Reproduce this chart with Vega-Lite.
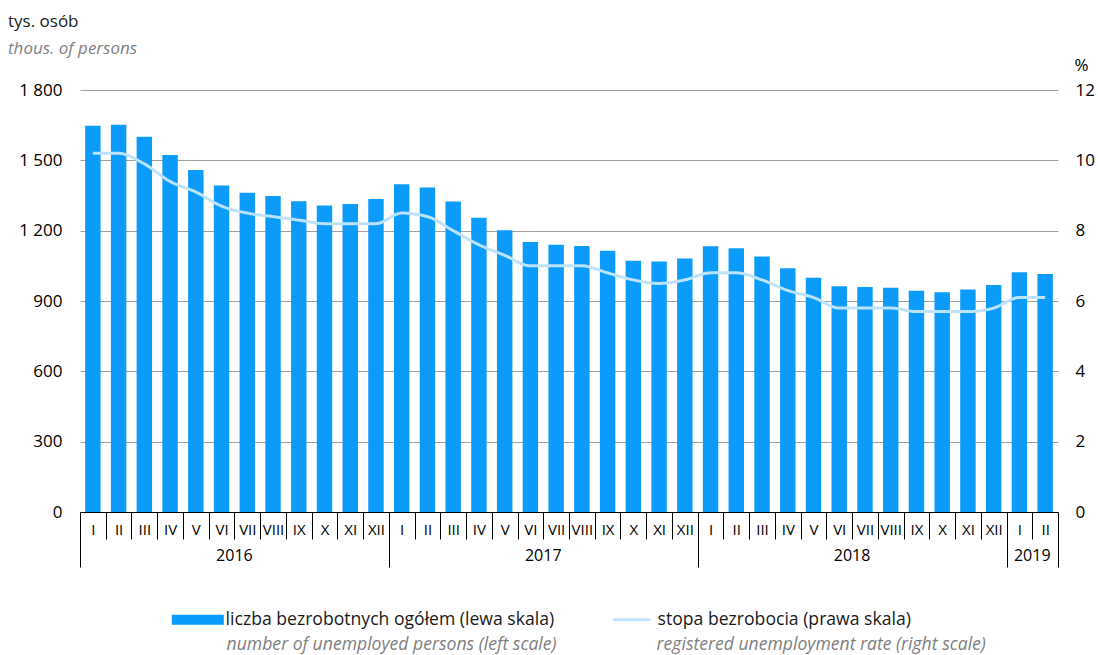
{
  "$schema": "https://vega.github.io/schema/vega-lite/v6.json",
  "width": 978,
  "height": 422,
  "autosize": {"type": "none"},
  "padding": {"left": 80, "top": 90, "right": 40, "bottom": 143},
  "background": "white",
  "config": {
    "font": "Open Sans",
    "view": {"stroke": null},
    "axis": {"labelFont": "Open Sans", "titleFont": "Open Sans"},
    "legend": {"labelFont": "Open Sans", "labelLimit": 0, "padding": 0}
  },
  "title": {
    "text": "tys. osób",
    "subtitle": "thous. of persons",
    "anchor": "start",
    "frame": "group",
    "dx": -72,
    "offset": -2,
    "font": "Open Sans",
    "fontSize": 17,
    "fontWeight": "normal",
    "color": "#1a1a1a",
    "subtitleFont": "Open Sans",
    "subtitleFontSize": 17,
    "subtitleFontStyle": "italic",
    "subtitleColor": "#7f7f7f",
    "subtitlePadding": 10
  },
  "data": {
    "values": [
      {"key": "2016|01|I", "value": 1648.0, "rate": 10.2},
      {"key": "2016|02|II", "value": 1651.8, "rate": 10.2},
      {"key": "2016|03|III", "value": 1600.2, "rate": 9.9},
      {"key": "2016|04|IV", "value": 1522.5, "rate": 9.4},
      {"key": "2016|05|V", "value": 1459.0, "rate": 9.1},
      {"key": "2016|06|VI", "value": 1393.0, "rate": 8.7},
      {"key": "2016|07|VII", "value": 1361.6, "rate": 8.5},
      {"key": "2016|08|VIII", "value": 1347.7, "rate": 8.4},
      {"key": "2016|09|IX", "value": 1325.0, "rate": 8.3},
      {"key": "2016|10|X", "value": 1307.5, "rate": 8.2},
      {"key": "2016|11|XI", "value": 1313.3, "rate": 8.2},
      {"key": "2016|12|XII", "value": 1335.2, "rate": 8.2},
      {"key": "2017|01|I", "value": 1398.1, "rate": 8.5},
      {"key": "2017|02|II", "value": 1383.6, "rate": 8.4},
      {"key": "2017|03|III", "value": 1324.0, "rate": 8.0},
      {"key": "2017|04|IV", "value": 1255.1, "rate": 7.6},
      {"key": "2017|05|V", "value": 1201.5, "rate": 7.3},
      {"key": "2017|06|VI", "value": 1151.6, "rate": 7.0},
      {"key": "2017|07|VII", "value": 1139.4, "rate": 7.0},
      {"key": "2017|08|VIII", "value": 1135.0, "rate": 7.0},
      {"key": "2017|09|IX", "value": 1114.6, "rate": 6.8},
      {"key": "2017|10|X", "value": 1071.8, "rate": 6.6},
      {"key": "2017|11|XI", "value": 1068.7, "rate": 6.5},
      {"key": "2017|12|XII", "value": 1081.7, "rate": 6.6},
      {"key": "2018|01|I", "value": 1134.0, "rate": 6.8},
      {"key": "2018|02|II", "value": 1125.2, "rate": 6.8},
      {"key": "2018|03|III", "value": 1089.6, "rate": 6.6},
      {"key": "2018|04|IV", "value": 1040.0, "rate": 6.3},
      {"key": "2018|05|V", "value": 999.0, "rate": 6.1},
      {"key": "2018|06|VI", "value": 963.0, "rate": 5.8},
      {"key": "2018|07|VII", "value": 960.0, "rate": 5.8},
      {"key": "2018|08|VIII", "value": 956.0, "rate": 5.8},
      {"key": "2018|09|IX", "value": 944.0, "rate": 5.7},
      {"key": "2018|10|X", "value": 937.0, "rate": 5.7},
      {"key": "2018|11|XI", "value": 949.0, "rate": 5.7},
      {"key": "2018|12|XII", "value": 968.0, "rate": 5.8},
      {"key": "2019|01|I", "value": 1023.0, "rate": 6.1},
      {"key": "2019|02|II", "value": 1015.0, "rate": 6.1}
    ]
  },
  "layer": [
    {
      "mark": {"type": "bar", "width": {"band": 0.6}},
      "encoding": {
        "x": {
          "field": "key",
          "type": "ordinal",
          "sort": null,
          "scale": {"paddingInner": 0, "paddingOuter": 0},
          "axis": {
            "orient": "bottom",
            "title": null,
            "grid": false,
            "domainColor": "#000000",
            "domainWidth": 1,
            "tickBand": "extent",
            "tickColor": "#000000",
            "tickWidth": 1,
            "tickSize": {
              "condition": {"test": "datum.extra || indexof(datum.value + '', '|12|') >= 0 || datum.value == '2019|02|II'", "value": 55},
              "value": 27
            },
            "labelPadding": {
              "condition": {"test": "datum.extra || indexof(datum.value + '', '|12|') >= 0 || datum.value == '2019|02|II'", "value": -45},
              "value": -17
            },
            "labelExpr": "datum.value ? split(datum.value, '|')[2] : ''",
            "labelAngle": 0,
            "labelFontSize": 15,
            "labelColor": "#000000",
            "labelOverlap": false,
            "labelFlush": false,
            "labelBound": false
          }
        },
        "y": {
          "field": "value",
          "type": "quantitative",
          "scale": {"domain": [0, 1800], "nice": false, "zero": true},
          "axis": {
            "orient": "left",
            "title": null,
            "domain": false,
            "ticks": false,
            "grid": true,
            "gridColor": "#a0a0a0",
            "gridWidth": 1,
            "values": [0, 300, 600, 900, 1200, 1500, 1800],
            "labelExpr": "replace(format(datum.value, ','), ',', ' ')",
            "labelFontSize": 17,
            "labelColor": "#000000",
            "labelPadding": 18
          }
        },
        "color": {
          "datum": "liczba bezrobotnych ogółem (lewa skala)",
          "scale": {"range": ["#0b9bfa"]},
          "legend": {
            "orient": "none",
            "legendX": 109,
            "legendY": 521,
            "title": null,
            "symbolType": "M-5.2,-1H5.2V1H-5.2Z",
            "symbolSize": 100,
            "symbolStrokeWidth": 0,
            "labelFontSize": 17.6,
            "labelColor": "#1a1a1a",
            "labelOffset": 19
          }
        },
        "opacity": {
          "datum": "number of unemployed persons (left scale)",
          "type": "ordinal",
          "scale": {"range": [1, 1]},
          "legend": {
            "orient": "none",
            "legendX": 129,
            "legendY": 546,
            "title": null,
            "symbolSize": 0,
            "symbolOpacity": 0,
            "symbolStrokeWidth": 0,
            "labelFontSize": 17.6,
            "labelFontStyle": "italic",
            "labelColor": "#808080",
            "labelOffset": 0
          }
        }
      }
    },
    {
      "mark": {"type": "line", "interpolate": "monotone", "strokeWidth": 3},
      "encoding": {
        "x": {
          "field": "key",
          "type": "ordinal",
          "sort": null,
          "axis": {
            "orient": "bottom",
            "title": null,
            "grid": false,
            "domain": false,
            "ticks": false,
            "tickSize": 0,
            "values": ["2016|07|VII", "2017|07|VII", "2018|07|VII", "2019|02|II"],
            "labelExpr": "split(datum.value, '|')[0]",
            "labelOffset": -12.87,
            "labelAngle": 0,
            "labelFontSize": 16,
            "labelColor": "#000000",
            "labelPadding": 35,
            "labelOverlap": false,
            "labelFlush": false,
            "labelBound": false
          }
        },
        "y": {
          "field": "rate",
          "type": "quantitative",
          "scale": {"domain": [0, 12], "nice": false},
          "axis": {
            "orient": "right",
            "title": "%",
            "titleAngle": 0,
            "titleX": 23,
            "titleY": -20,
            "titleAlign": "center",
            "titleBaseline": "alphabetic",
            "titleFontSize": 17,
            "titleFontWeight": "normal",
            "titleColor": "#000000",
            "domain": false,
            "ticks": false,
            "grid": false,
            "values": [0, 2, 4, 6, 8, 10, 12],
            "labelFontSize": 17,
            "labelColor": "#000000",
            "labelPadding": 17
          }
        },
        "stroke": {
          "datum": "stopa bezrobocia (prawa skala)",
          "scale": {"range": ["#bde2fb"]},
          "legend": {
            "orient": "none",
            "legendX": 543,
            "legendY": 521,
            "title": null,
            "symbolType": "M-3.7,0H3.7",
            "symbolSize": 100,
            "symbolStrokeWidth": 3,
            "labelFontSize": 17.6,
            "labelColor": "#1a1a1a",
            "labelOffset": 17
          }
        },
        "strokeDash": {
          "datum": "registered unemployment rate (right scale)",
          "scale": {"range": [[1, 0]]},
          "legend": {
            "orient": "none",
            "legendX": 559,
            "legendY": 546,
            "title": null,
            "symbolSize": 0,
            "symbolOpacity": 0,
            "symbolStrokeWidth": 0,
            "labelFontSize": 17.6,
            "labelFontStyle": "italic",
            "labelColor": "#808080",
            "labelOffset": 0
          }
        }
      }
    }
  ],
  "resolve": {"scale": {"y": "independent"}, "axis": {"x": "independent"}}
}
